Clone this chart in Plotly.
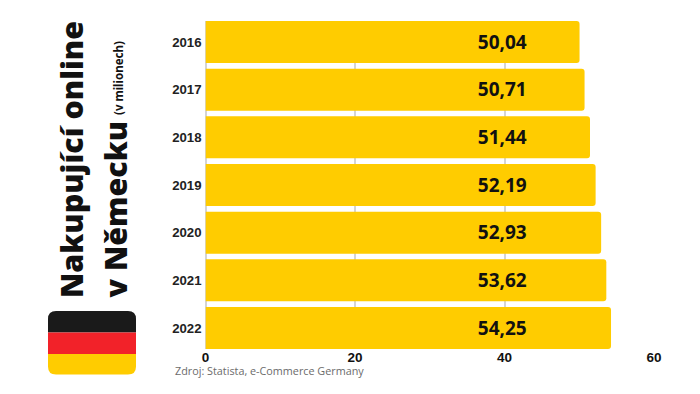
import plotly.graph_objects as go

years = ["2016", "2017", "2018", "2019", "2020", "2021", "2022"]
values = [50.04, 50.71, 51.44, 52.19, 52.93, 53.62, 54.25]
value_labels = ["50,04", "50,71", "51,44", "52,19", "52,93", "53,62", "54,25"]
label_x = [39.7] * len(years)
x_ticks = [0, 20, 40, 60]

W, H = 700, 394
def px(x): return x / W
def py(y): return 1 - y / H

fig = go.Figure()
fig.add_trace(go.Bar(
    y=years, x=values, orientation="h",
    marker=dict(color="#FFCC00", line=dict(width=0), cornerradius=3),
    hoverinfo="skip", width=0.88,
))
fig.add_trace(go.Scatter(
    y=years, x=label_x, mode="text", text=value_labels, textposition="middle center", yaxis="y2",
    textfont=dict(family="Noto Sans", size=19, color="#111111", weight="bold"), hoverinfo="skip",
))

def title(text, x, y, size, weight=900):
    fig.add_annotation(x=px(x), y=py(y), xref="paper", yref="paper", text=text,
                       textangle=-90, showarrow=False, xanchor="center", yanchor="bottom",
                       font=dict(family="Noto Sans", size=size, color="#111111", weight=weight))

title("Nakupující online", 71.5, 300, 30.4)
title("v Německu", 115, 300, 30.4)
title("(v milionech)", 118, 117, 11.5, 700)

fig.add_annotation(x=px(172.5), y=py(370.5), xref="paper", yref="paper", text="Zdroj: Statista, e-Commerce Germany",
                   showarrow=False, xanchor="left", yanchor="middle",
                   font=dict(family="Open Sans", size=10.8, color="#6b6b6b"))

# flag
x0, x1, y0, y1, y2, y3, r = 48, 136, 311, 332.5, 354, 374.5, 8
def P(x, y): return f"{px(x)},{py(y)}"
top = (f"M{P(x0,y1)} L{P(x0,y0+r)} Q{P(x0,y0)} {P(x0+r,y0)} L{P(x1-r,y0)} "
       f"Q{P(x1,y0)} {P(x1,y0+r)} L{P(x1,y1)} Z")
bottom = (f"M{P(x0,y2)} L{P(x0,y3-r)} Q{P(x0,y3)} {P(x0+r,y3)} L{P(x1-r,y3)} "
          f"Q{P(x1,y3)} {P(x1,y3-r)} L{P(x1,y2)} Z")
fig.add_shape(type="path", path=top, xref="paper", yref="paper", fillcolor="#1A1A1A", line_width=0)
fig.add_shape(type="rect", x0=px(x0), x1=px(x1), y0=py(y2), y1=py(y1), xref="paper", yref="paper",
              fillcolor="#F22229", line_width=0)
fig.add_shape(type="path", path=bottom, xref="paper", yref="paper", fillcolor="#FFCC00", line_width=0)

fig.update_layout(
    width=W, height=H, margin=dict(l=0, r=0, t=0, b=0, autoexpand=False), paper_bgcolor="white", plot_bgcolor="white",
    showlegend=False, bargap=0.1,
    xaxis=dict(domain=[px(205.5), px(654)], range=[0, 60], tickvals=x_ticks, showgrid=True,
               gridcolor="#d4d4d4", gridwidth=1.5, zeroline=True, zerolinecolor="#d4d4d4", zerolinewidth=1.5,
               showline=False, ticks="", automargin=False, ticklabelstandoff=-2,
               tickfont=dict(family="Liberation Sans", size=13.5, color="#111111", weight="bold")),
    yaxis=dict(type="category", domain=[py(349), py(21)], categoryorder="array", categoryarray=years,
               range=[6.44, -0.44], showgrid=False,
               showline=False, ticks="", ticklabelstandoff=3, automargin=False,
               tickfont=dict(family="Liberation Sans", size=13.2, color="#222222", weight="bold")),
    yaxis2=dict(type="category", overlaying="y", domain=[py(349), py(21)], categoryorder="array", categoryarray=years,
                range=[6.398, -0.482], visible=False),
)
fig.write_html("out.html", config={"displayModeBar": False},
               post_script="document.body.style.margin='0';document.documentElement.style.overflow='hidden';")
